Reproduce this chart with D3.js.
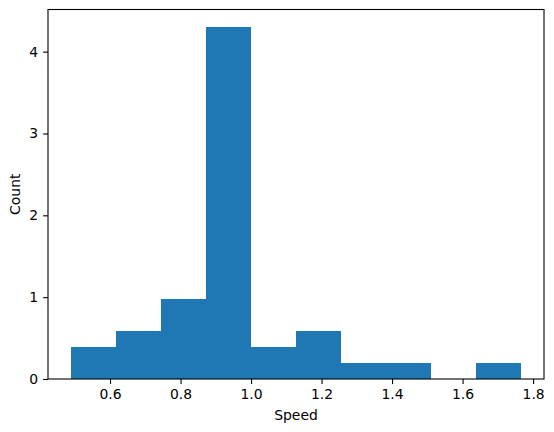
<!DOCTYPE html>
<html>
<head>
<meta charset="utf-8">
<script src="https://cdn.jsdelivr.net/npm/d3@7"></script>
<style>
body { margin: 0; background: #fff; }
text { font-family: "DejaVu Sans", sans-serif; }
</style>
</head>
<body>
<div class="container"></div>
<script>
var	WIDTH = 554,
	HEIGHT = 432,
	LEFT = 48,
	TOP = 9.5,
	PLOT_W = 496,
	PLOT_H = 369.5;

// histogram bins (left edges) and bar heights
var binEdges = [0.488, 0.616, 0.744, 0.872, 1.000, 1.127, 1.255, 1.383, 1.511, 1.639, 1.767];
var heights = [0.39, 0.59, 0.98, 4.30, 0.39, 0.59, 0.20, 0.20, 0, 0.20];
var xTicks = [0.6, 0.8, 1.0, 1.2, 1.4, 1.6, 1.8];
var yTicks = [0, 1, 2, 3, 4];

function translate(x, y) {
	return 'translate(' + x + ',' + y + ')';
}

function drawChart() {
	var svg = d3.select('.container').append('svg')
		.attr('width', WIDTH)
		.attr('height', HEIGHT);

	var span = binEdges[binEdges.length - 1] - binEdges[0];
	var xScale = d3.scaleLinear()
		.domain([binEdges[0] - 0.05 * span, binEdges[binEdges.length - 1] + 0.05 * span])
		.range([0, PLOT_W]);

	var yMax = d3.max(heights) * 1.05;
	var yScale = d3.scaleLinear()
		.domain([0, yMax])
		.range([PLOT_H, 0]);

	var g = svg.append('g').attr('transform', translate(LEFT, TOP));

	var bins = heights.map(function(h, i) {
		return {x0: binEdges[i], x1: binEdges[i + 1], h: h};
	});

	g.selectAll('rect.bar')
		.data(bins.filter(function(d) { return d.h > 0; }))
		.enter().append('rect')
		.attr('class', 'bar')
		.attr('x', function(d) { return xScale(d.x0); })
		.attr('width', function(d) { return xScale(d.x1) - xScale(d.x0); })
		.attr('y', function(d) { return yScale(d.h); })
		.attr('height', function(d) { return PLOT_H - yScale(d.h); })
		.attr('fill', '#1f77b4')
		.attr('shape-rendering', 'crispEdges');

	var xAxis = d3.axisBottom(xScale)
		.tickValues(xTicks)
		.tickFormat(d3.format('.1f'))
		.tickSize(4.9)
		.tickPadding(4.9)
		.tickSizeOuter(0);

	var yAxis = d3.axisLeft(yScale)
		.tickValues(yTicks)
		.tickFormat(d3.format('d'))
		.tickSize(4.9)
		.tickPadding(4.9)
		.tickSizeOuter(0);

	var xg = g.append('g')
		.attr('transform', translate(0, PLOT_H))
		.call(xAxis);
	var yg = g.append('g').call(yAxis);

	[xg, yg].forEach(function(a) {
		a.select('.domain').remove();
		a.selectAll('line').attr('stroke', '#000').attr('stroke-width', 1.1);
		a.selectAll('text')
			.attr('fill', '#000')
			.style('font-size', '13.9px')
			.style('font-family', '"DejaVu Sans", sans-serif');
	});

	// frame
	g.append('rect')
		.attr('width', PLOT_W)
		.attr('height', PLOT_H)
		.attr('fill', 'none')
		.attr('stroke', '#000')
		.attr('stroke-width', 1.1);

	svg.append('text')
		.attr('x', LEFT + PLOT_W / 2)
		.attr('y', 420)
		.attr('text-anchor', 'middle')
		.style('font-size', '13.9px')
		.text('Speed');

	svg.append('text')
		.attr('transform', translate(20, TOP + PLOT_H / 2) + ' rotate(-90)')
		.attr('text-anchor', 'middle')
		.style('font-size', '13.9px')
		.text('Count');
}

drawChart();
</script>
</body>
</html>
